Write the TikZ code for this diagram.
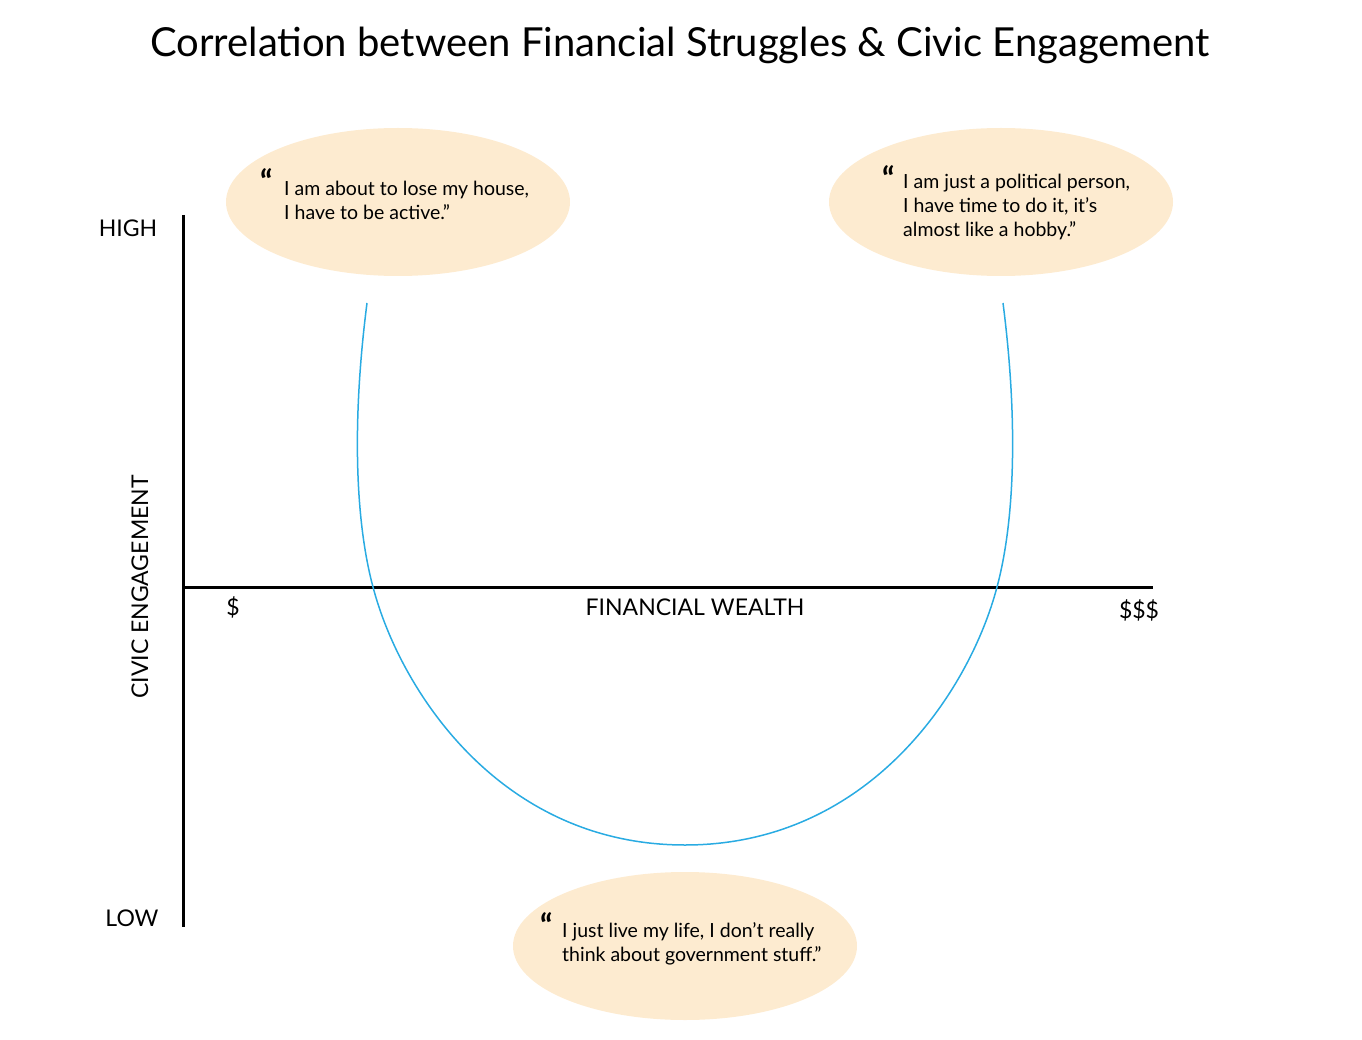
\documentclass[tikz,border=0pt]{standalone}
\usepackage{fontspec}
\setmainfont{Lato}
\definecolor{bub}{HTML}{FDEBD0}
\definecolor{crv}{HTML}{29ABE2}
\begin{document}
\begin{tikzpicture}[x=1pt,y=-1pt,
  bubble/.style={fill=bub,draw=none},
  qt/.style={anchor=north west,align=left,font=\fontsize{19.5}{24}\selectfont,inner sep=0pt},
  qm/.style={anchor=north west,font=\fontsize{32}{32}\selectfont\bfseries,inner sep=0pt},
  lab/.style={font=\fontsize{23}{26}\selectfont,inner sep=0pt}]
\useasboundingbox (0,0) rectangle (1362,1040);
\node[font=\fontsize{40}{44}\selectfont] (title) at (680,45) {Correlation between Financial Struggles \& Civic Engagement};
\fill[bubble] (398,202) ellipse[x radius=172,y radius=74];
\fill[bubble] (1001,202) ellipse[x radius=172,y radius=74];
\fill[bubble] (685,946) ellipse[x radius=172,y radius=74];
\node[qm] (q1) at (260,168) {“};
\node[qt] (t1) at (284,181) {I am about to lose my house,\\I have to be active.”};
\node[qm] (q2) at (882,165) {“};
\node[qt] (t2) at (903,174) {I am just a political person,\\I have time to do it, it’s\\almost like a hobby.”};
\node[qm] (q3) at (540,912) {“};
\node[qt] (t3) at (562,922) {I just live my life, I don’t really\\think about government stuff.”};
\coordinate (ytop) at (183,215);
\coordinate (ybot) at (183,927);
\coordinate (xl) at (183,587);
\coordinate (xr) at (1153,587);
\draw[line width=3pt] (ytop) -- (ybot);
\draw[line width=3pt] (xl) -- (xr);
\node[lab] (high) at (128,228) {HIGH};
\node[lab] (low) at (132,918) {LOW};
\node[lab,rotate=90] (ce) at (140,587) {CIVIC ENGAGEMENT};
\node[lab] (d1) at (233,607) {\$};
\node[lab] (fw) at (695,607) {FINANCIAL WEALTH};
\node[lab] (d3) at (1139,610) {\$\$\$};
\draw[crv,line width=1.5pt] (367,303) .. controls (352,420) and (355,520) .. (373,587)
  .. controls (400,690) and (500,845) .. (685,845)
  .. controls (870,845) and (970,690) .. (997,587)
  .. controls (1015,520) and (1018,420) .. (1003,303);
\end{tikzpicture}
\end{document}
